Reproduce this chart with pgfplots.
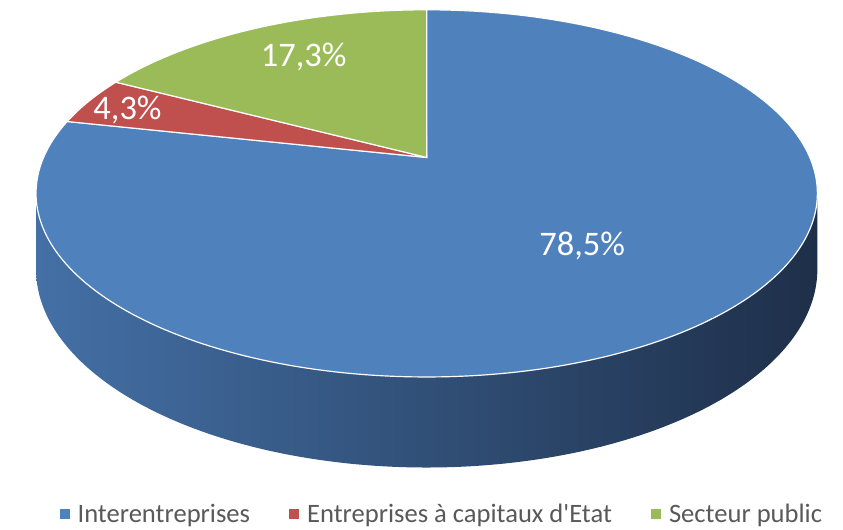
\documentclass[border=0pt]{standalone}
\usepackage{pgfplots}
\pgfplotsset{compat=1.18}
\usepackage{pgfplotstable}
\usepackage{fontspec}
\setmainfont{Carlito}
\definecolor{cBlue}{RGB}{79,129,189}
\definecolor{cRed}{RGB}{192,80,77}
\definecolor{cGreen}{RGB}{155,187,89}
\definecolor{sL}{RGB}{68,112,166}
\definecolor{sM}{RGB}{44,76,118}
\definecolor{sR}{RGB}{30,47,73}
\definecolor{legtext}{RGB}{89,89,89}

\pgfplotstableread{
cat share
Interentreprises 78.5
Etat 4.3
Public 17.3
}\sharetable

\begin{document}
\pgfplotstablegetelem{0}{share}\of\sharetable\pgfmathsetmacro\sA{\pgfplotsretval}
\pgfplotstablegetelem{1}{share}\of\sharetable\pgfmathsetmacro\sB{\pgfplotsretval}
\pgfplotstablegetelem{2}{share}\of\sharetable\pgfmathsetmacro\sC{\pgfplotsretval}
\pgfmathsetmacro\gEnd{90+3.6*\sC}
\pgfmathsetmacro\rEnd{\gEnd+3.6*\sB}
\pgfmathsetmacro\bEnd{\rEnd+3.6*\sA}
\begin{tikzpicture}
\begin{axis}[
  at={(0,0)}, anchor=south west,
  scale only axis, width=843pt, height=538pt,
  xmin=0, xmax=843, ymin=0, ymax=538,
  hide axis, clip=false,
  declare function={
    px(\t)=420+389.3*cos(\t)/(1+0.1957*sin(\t));
    py(\t)=378+179.4*sin(\t)/(1+0.1957*sin(\t));
    dp(\t)=74/(1+0.1957*sin(\t));
    sT(\s)=(1-(\s>1))*(191.29+157.42*\s)+(\s>1)*(348.71-157.42*(\s-1));
  },
  legend image code/.code={\fill[#1] (0pt,-5pt) rectangle (10pt,5pt);},
  legend style={at={(axis cs:434.5,16)}, anchor=center, draw=none, fill=none,
    font=\fontsize{27}{30}\selectfont, text=legtext,
    legend columns=3, nodes={inner sep=0pt},
    /tikz/every odd column/.append style={column sep=8pt},
    /tikz/every even column/.append style={column sep=40pt}},
]
% side of the cylinder
\addplot[draw=none, left color=sL, middle color=sM, right color=sR,
  domain=0:2, samples=301, forget plot]
  ({px(sT(x))}, {py(sT(x)) - (x>1)*dp(sT(x))}) -- cycle;
% top slices
\addplot[fill=cBlue, draw=white, line width=1.2pt, domain=\rEnd:\bEnd, samples=240, forget plot]
  ({px(x)}, {py(x)}) -- (axis cs:420,378) -- cycle;
\addplot[fill=cRed, draw=white, line width=1.2pt, domain=\gEnd:\rEnd, samples=30, forget plot]
  ({px(x)}, {py(x)}) -- (axis cs:420,378) -- cycle;
\addplot[fill=cGreen, draw=white, line width=1.2pt, domain=90:\gEnd, samples=80, forget plot]
  ({px(x)}, {py(x)}) -- (axis cs:420,378) -- cycle;
% labels
\node[anchor=base, inner sep=0pt, text=white, font=\fontsize{35}{40}\selectfont] at (axis cs:578,278) {78,5\%};
\node[anchor=base, inner sep=0pt, text=white, font=\fontsize{35}{40}\selectfont] at (axis cs:295,470) {17,3\%};
\node[anchor=base, inner sep=0pt, text=white, font=\fontsize{35}{40}\selectfont] at (axis cs:116,417) {4,3\%};
% legend
\addlegendimage{fill=cBlue, draw=none}
\addlegendentry{Interentreprises}
\addlegendimage{fill=cRed, draw=none}
\addlegendentry{Entreprises à capitaux d\textquotesingle Etat}
\addlegendimage{fill=cGreen, draw=none}
\addlegendentry{Secteur public}
\end{axis}
\pgfresetboundingbox
\path[use as bounding box] (0,0) rectangle (843pt,538pt);
\end{tikzpicture}
\end{document}
